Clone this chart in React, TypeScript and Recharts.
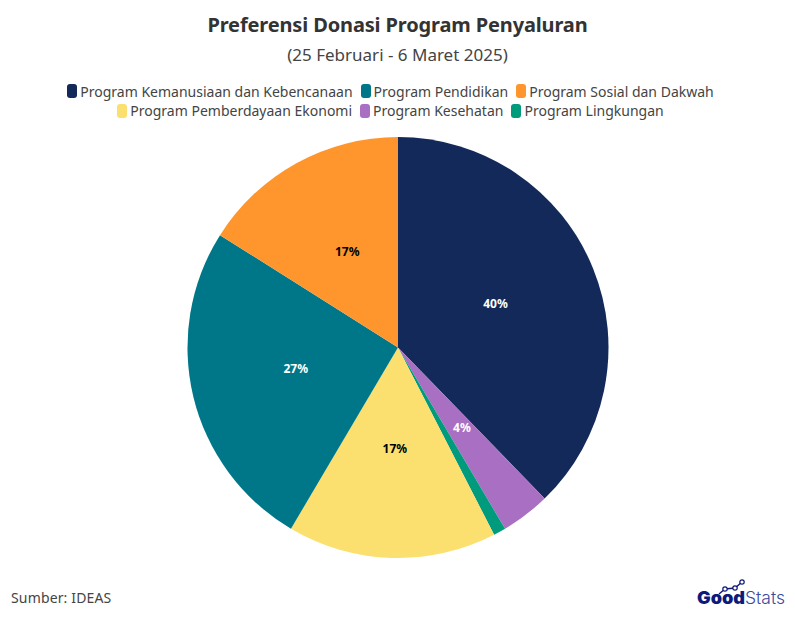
import { PieChart, Pie, Cell } from "recharts";

const FONT = "'Noto Sans', sans-serif";

const sliceNames = [
  "Program Kemanusiaan dan Kebencanaan",
  "Program Kesehatan",
  "Program Lingkungan",
  "Program Pemberdayaan Ekonomi",
  "Program Pendidikan",
  "Program Sosial dan Dakwah",
];
const sliceValues = [40, 4, 1, 17, 27, 17];
const sliceColors = ["#132959", "#a86fc3", "#009b7d", "#fbe06f", "#007788", "#ff962d"];
const labelColors = ["#ffffff", "#ffffff", "none", "#000000", "#ffffff", "#000000"];

const legendRows = [
  ["Program Kemanusiaan dan Kebencanaan", "Program Pendidikan", "Program Sosial dan Dakwah"],
  ["Program Pemberdayaan Ekonomi", "Program Kesehatan", "Program Lingkungan"],
];

const data = sliceNames.map((name, i) => ({ name, value: sliceValues[i] }));

const RADIAN = Math.PI / 180;

function renderLabel({ cx, cy, midAngle, outerRadius, index, value }: any) {
  if (labelColors[index] === "none") return null;
  const r = outerRadius * 0.5;
  const x = cx + r * Math.cos(-midAngle * RADIAN);
  const y = cy + r * Math.sin(-midAngle * RADIAN) - 4;
  return (
    <text
      x={x}
      y={y}
      textAnchor="middle"
      dominantBaseline="central"
      fontFamily={FONT}
      fontSize={12}
      fontWeight={700}
      fill={labelColors[index]}
    >
      {value}%
    </text>
  );
}

function Legend() {
  return (
    <div style={{ position: "absolute", left: -7, top: 81.5, width: 795, fontFamily: FONT, fontSize: 14, color: "#444444" }}>
      {legendRows.map((row, i) => (
        <div key={i} style={{ display: "flex", justifyContent: "center", gap: 8, height: 19.5, alignItems: "center" }}>
          {row.map((name) => (
            <div key={name} style={{ display: "flex", alignItems: "center", gap: 3 }}>
              <span
                style={{
                  width: 10,
                  height: 14,
                  borderRadius: 3,
                  background: sliceColors[sliceNames.indexOf(name)],
                }}
              />
              <span style={{ whiteSpace: "nowrap" }}>{name}</span>
            </div>
          ))}
        </div>
      ))}
    </div>
  );
}

function Logo() {
  return (
    <svg width={100} height={36} style={{ position: "absolute", left: 692, top: 574 }}>
      <polyline points="27,20 33,15 43,14 50,8" fill="none" stroke="#0e1a7a" strokeWidth={1.4} />
      <circle cx={33} cy={15} r={2.2} fill="#fff" stroke="#0e1a7a" strokeWidth={1.2} />
      <circle cx={43} cy={14} r={2.2} fill="#fff" stroke="#0e1a7a" strokeWidth={1.2} />
      <circle cx={50} cy={8} r={2.2} fill="#fff" stroke="#0e1a7a" strokeWidth={1.2} />
      <text x={5} y={29.5} fontFamily="Inter, sans-serif" fontSize={17} fontWeight={900} fill="#0e1a7a" textLength={48} lengthAdjust="spacingAndGlyphs">
        Good
      </text>
      <text x={53} y={29.5} fontFamily="Inter, sans-serif" fontSize={17} fontWeight={300} fill="#3a4aa0" textLength={40} lengthAdjust="spacingAndGlyphs">
        Stats
      </text>
    </svg>
  );
}

export default function App() {
  return (
    <div style={{ position: "absolute", left: 0, top: 0, width: 795, height: 631, background: "#fff", overflow: "hidden" }}>
      <PieChart width={795} height={631} margin={{ top: 0, right: 0, bottom: 0, left: 0 }}>
        <Pie
          data={data}
          dataKey="value"
          nameKey="name"
          cx={398}
          cy={347.5}
          outerRadius={210.5}
          startAngle={90}
          endAngle={-270}
          stroke="none"
          label={renderLabel}
          labelLine={false}
          isAnimationActive={false}
        >
          {data.map((d, i) => (
            <Cell key={d.name} fill={sliceColors[i]} />
          ))}
        </Pie>
      </PieChart>
      <div style={{ position: "absolute", left: 0, top: 11, width: 795, textAlign: "center", fontFamily: FONT, fontSize: 20, fontWeight: 700, letterSpacing: -0.14, color: "#333333" }}>
        Preferensi Donasi Program Penyaluran
      </div>
      <div style={{ position: "absolute", left: 0, top: 43, width: 795, textAlign: "center", fontFamily: FONT, fontSize: 17, color: "#444444" }}>
        (25 Februari - 6 Maret 2025)
      </div>
      <Legend />
      <div style={{ position: "absolute", left: 11, top: 588, fontFamily: FONT, fontSize: 14, letterSpacing: 0.15, color: "#444444" }}>
        Sumber: IDEAS
      </div>
      <Logo />
    </div>
  );
}
